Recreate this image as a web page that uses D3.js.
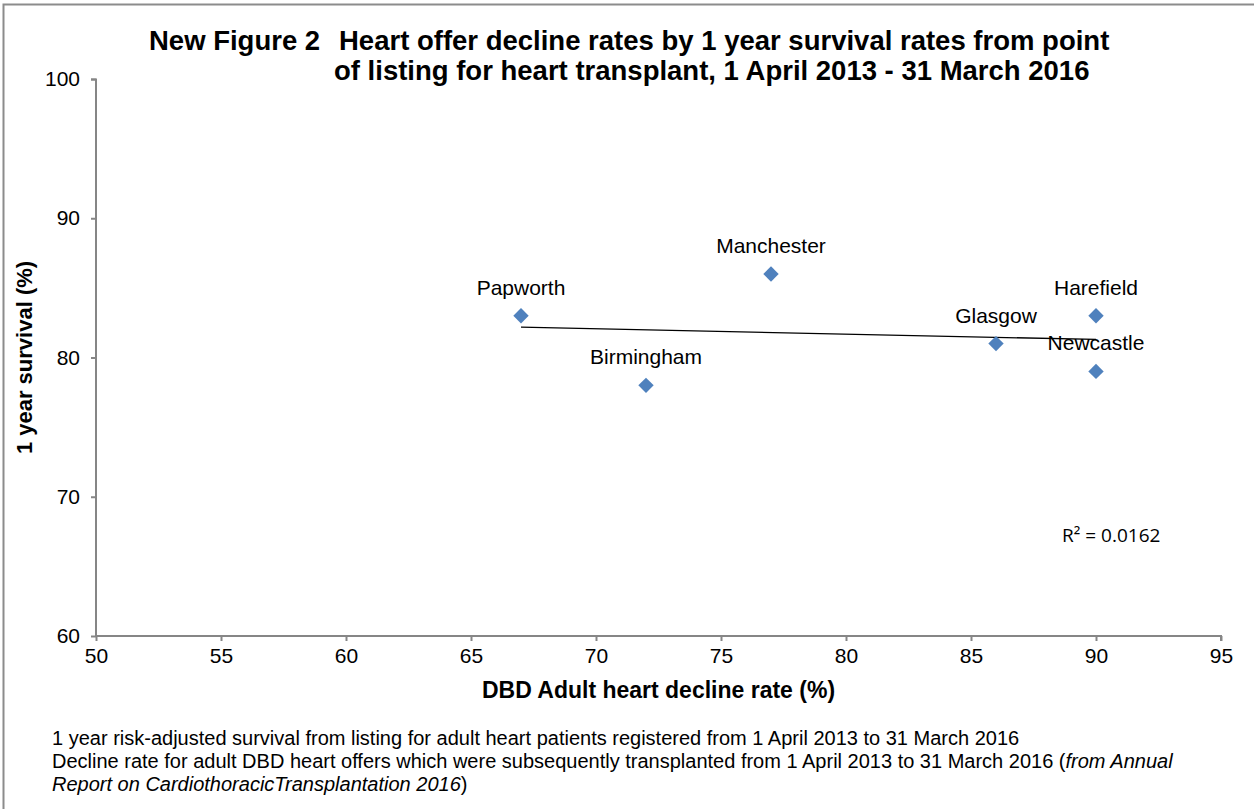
<!DOCTYPE html>
<html>
<head>
<meta charset="utf-8">
<script src="https://cdn.jsdelivr.net/npm/d3@7"></script>
<style>
    body { margin: 0; background: #fff; }
    text { font-family: "Liberation Sans", Arial, sans-serif; fill: #000; }
</style>
</head>
<body>
<div id="scatter"></div>
<script>
// centres, decline rate (%) and 1 year survival (%)
var centres = ["Papworth", "Birmingham", "Manchester", "Glasgow", "Harefield", "Newcastle"];
var declineRates = [67, 72, 77, 86, 90, 90];
var survivalRates = [83, 78, 86, 81, 83, 79];
var xTicks = [50, 55, 60, 65, 70, 75, 80, 85, 90, 95];
var yTicks = [60, 70, 80, 90, 100];

var margin = {
        top: 79,
        right: 33,
        bottom: 173,
        left: 96
    },
    width = 1254 - margin.left - margin.right,
    height = 809 - margin.top - margin.bottom;

var svg = d3.select("#scatter")
    .append("svg")
    .attr("width", 1254)
    .attr("height", 809);

// outer frame (only top and left edges are visible)
svg.append("path")
    .attr("d", "M3.5,809 L3.5,4.5 L1254,4.5")
    .attr("fill", "none")
    .attr("stroke", "#8c8c8c")
    .attr("stroke-width", 2);

var g = svg.append("g")
    .attr("transform", "translate(" + margin.left + "," + margin.top + ")");

var xScale = d3.scaleLinear().domain([50, 95]).range([0, width]);
var yScale = d3.scaleLinear().domain([60, 100]).range([height, 0]);

var xAxis = g.append("g")
    .attr("transform", "translate(0," + height + ")")
    .call(d3.axisBottom(xScale).tickValues(xTicks).tickSize(5).tickPadding(7));
var yAxis = g.append("g")
    .call(d3.axisLeft(yScale).tickValues(yTicks).tickSize(5).tickPadding(11));

[xAxis, yAxis].forEach(function (ax) {
    ax.selectAll("path, line").attr("stroke", "#868686").attr("stroke-width", 2);
    ax.selectAll("text")
        .style("font-family", "'Liberation Sans', Arial, sans-serif")
        .style("font-size", "21px")
        .attr("fill", "#000");
});
xAxis.select(".domain").attr("d", "M0.5,0H" + width + "V5");
yAxis.select(".domain").attr("d", "M-5,0.5H0V" + height);

// linear trend line
var data = centres.map(function (c, i) {
    return { name: c, x: declineRates[i], y: survivalRates[i] };
});
var mx = d3.mean(data, function (d) { return d.x; });
var my = d3.mean(data, function (d) { return d.y; });
var sxy = d3.sum(data, function (d) { return (d.x - mx) * (d.y - my); });
var sxx = d3.sum(data, function (d) { return (d.x - mx) * (d.x - mx); });
var syy = d3.sum(data, function (d) { return (d.y - my) * (d.y - my); });
var slope = sxy / sxx;
var intercept = my - slope * mx;
var r2 = (sxy * sxy) / (sxx * syy);
var xMin = d3.min(declineRates), xMax = d3.max(declineRates);

g.append("line")
    .attr("x1", xScale(xMin))
    .attr("y1", yScale(intercept + slope * xMin))
    .attr("x2", xScale(xMax))
    .attr("y2", yScale(intercept + slope * xMax))
    .attr("stroke", "#000")
    .attr("stroke-width", 1.3);

// points
g.selectAll(".pt")
    .data(data)
    .enter()
    .append("path")
    .attr("class", "pt")
    .attr("d", d3.symbol().type(d3.symbolSquare).size(118))
    .attr("transform", function (d) {
        return "translate(" + xScale(d.x) + "," + yScale(d.y) + ") rotate(45)";
    })
    .attr("fill", "#4f81bd");

g.selectAll(".lbl")
    .data(data)
    .enter()
    .append("text")
    .attr("class", "lbl")
    .attr("x", function (d) { return xScale(d.x); })
    .attr("y", function (d) { return yScale(d.y) - 21; })
    .attr("text-anchor", "middle")
    .style("font-size", "21px")
    .text(function (d) { return d.name; });

// R squared
g.append("text")
    .attr("x", 966)
    .attr("y", 463)
    .style("font-family", "'Open Sans', 'Noto Sans', sans-serif")
    .style("font-size", "19px")
    .text("R\u00b2 = " + r2.toFixed(4));

// title
var title = svg.append("text")
    .style("font-weight", "bold")
    .style("font-size", "27.5px");
title.append("tspan").attr("x", 149).attr("y", 50).text("New Figure 2");
title.append("tspan").attr("x", 339).attr("y", 50)
    .text("Heart offer decline rates by 1 year survival rates from point");
title.append("tspan").attr("x", 334).attr("y", 80)
    .text("of listing for heart transplant, 1 April 2013 - 31 March 2016");

// axis titles
svg.append("text")
    .attr("x", margin.left + width / 2)
    .attr("y", 698)
    .attr("text-anchor", "middle")
    .style("font-weight", "bold")
    .style("font-size", "23px")
    .text("DBD Adult heart decline rate (%)");

svg.append("text")
    .attr("transform", "translate(32," + (margin.top + height / 2) + ") rotate(-90)")
    .attr("text-anchor", "middle")
    .style("font-weight", "bold")
    .style("font-size", "22px")
    .text("1 year survival (%)");

// footnotes
var notes = svg.append("g").style("font-size", "20px");
notes.append("text").attr("x", 52).attr("y", 745)
    .text("1 year risk-adjusted survival from listing for adult heart patients registered from 1 April 2013 to 31 March 2016");
var n2 = notes.append("text").attr("x", 52).attr("y", 768);
n2.append("tspan").text("Decline rate for adult DBD heart offers which were subsequently transplanted from 1 April 2013 to 31 March 2016 (");
n2.append("tspan").style("font-style", "italic").text("from Annual");
var n3 = notes.append("text").attr("x", 52).attr("y", 791);
n3.append("tspan").style("font-style", "italic").text("Report on CardiothoracicTransplantation 2016");
n3.append("tspan").text(")");
</script>
</body>
</html>
